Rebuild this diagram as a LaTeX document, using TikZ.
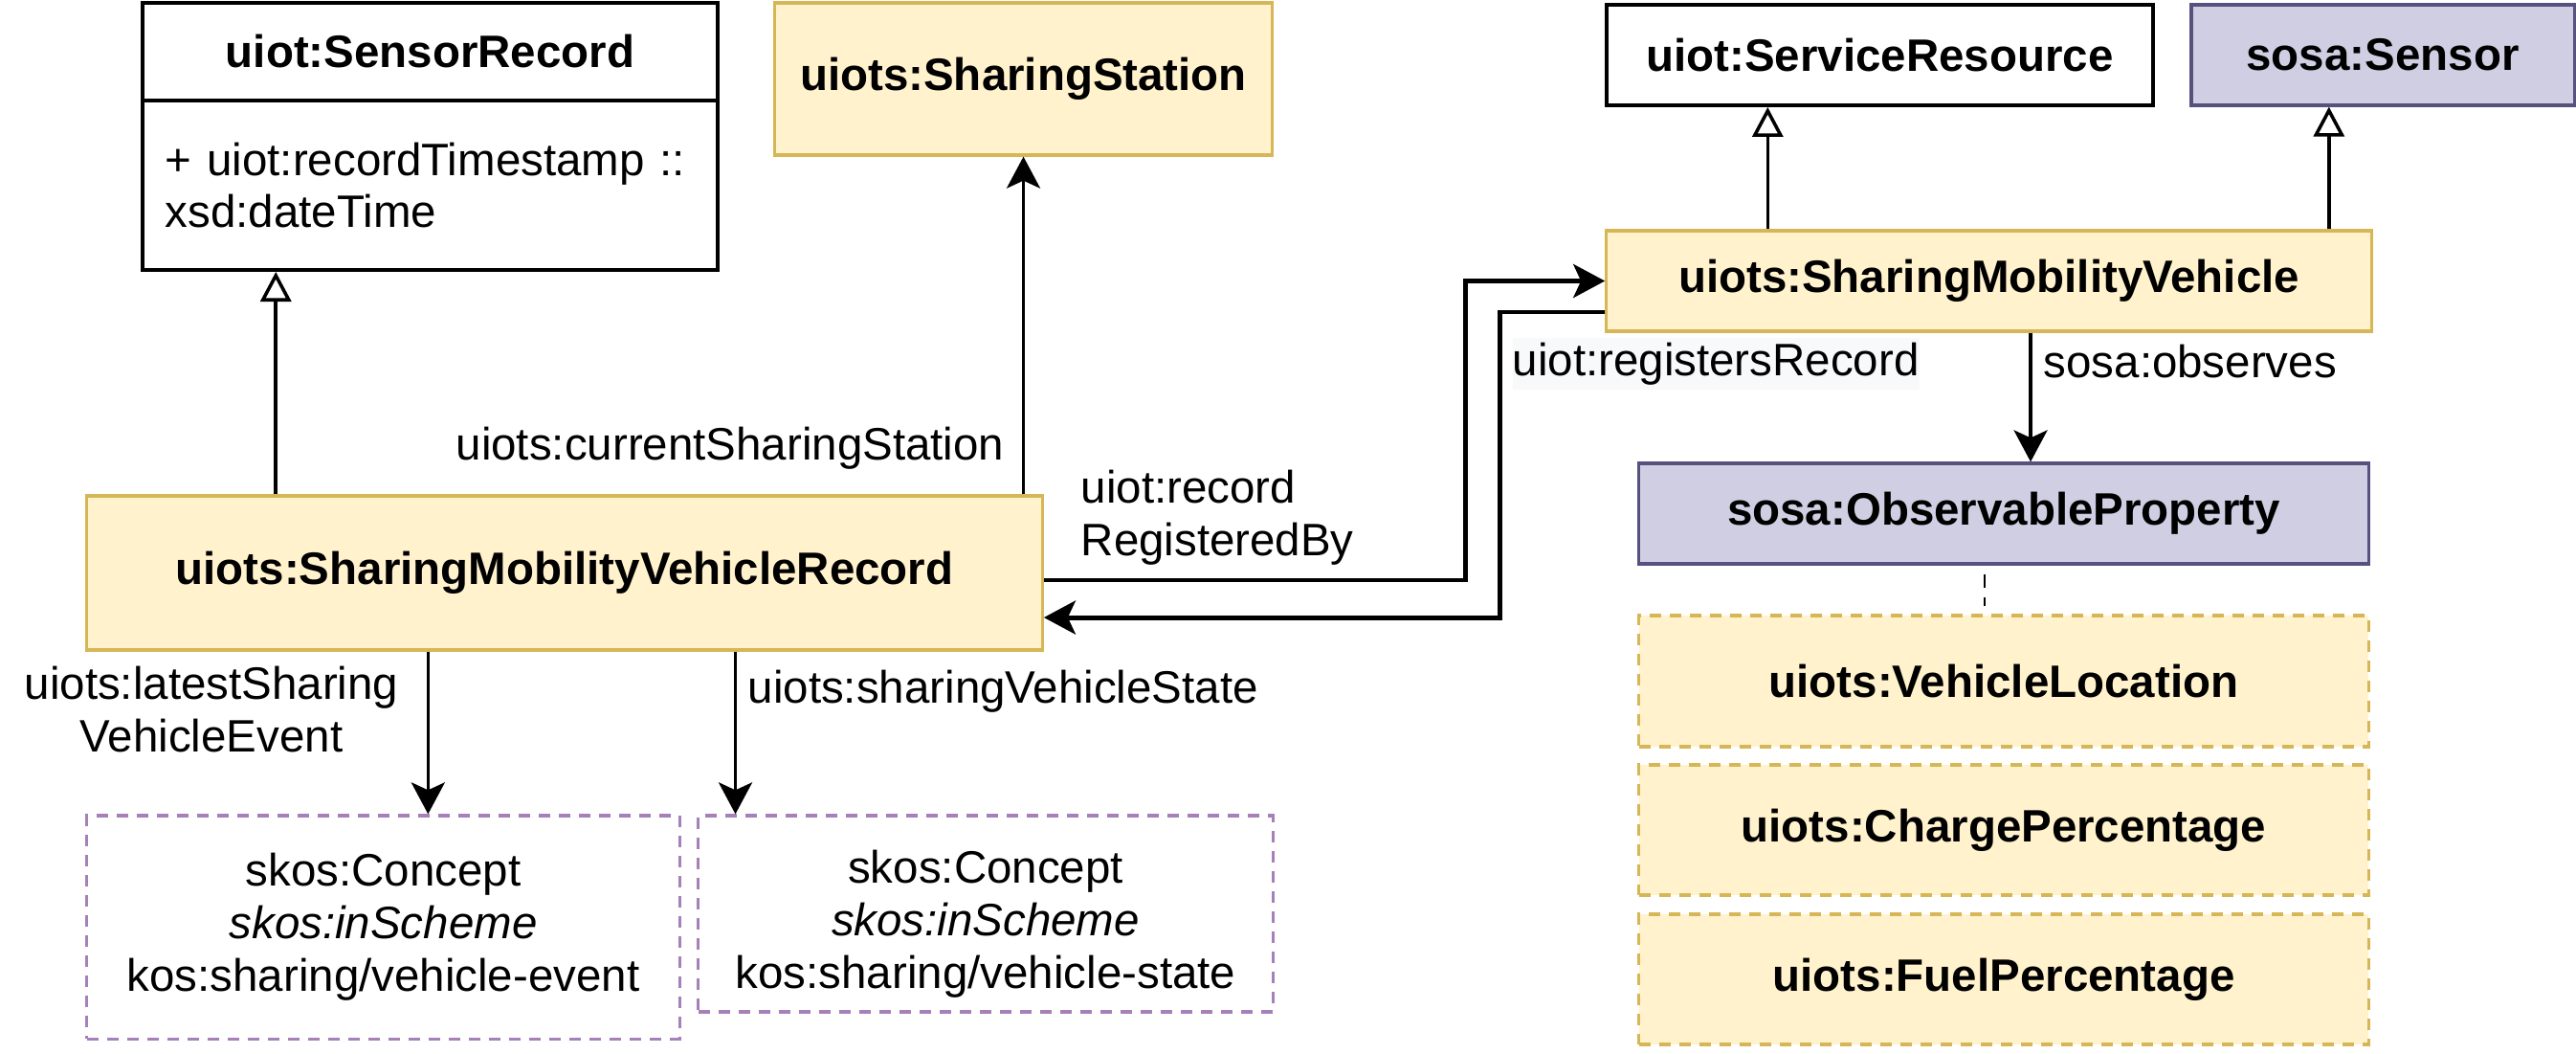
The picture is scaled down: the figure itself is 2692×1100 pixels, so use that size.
\documentclass[tikz,border=0pt]{standalone}
\usepackage{fontspec}
\setmainfont{Liberation Sans}
\usetikzlibrary{arrows.meta}
\definecolor{vehfill}{HTML}{FFF2CC}
\definecolor{vehline}{HTML}{D6B656}
\definecolor{sosafill}{HTML}{D0CEE2}
\definecolor{sosaline}{HTML}{56517E}
\definecolor{conceptline}{HTML}{A680B8}
\definecolor{labelbg}{HTML}{F8F9FA}
\newcommand{\nodefont}{\fontsize{13.5}{15.6}\selectfont}
\begin{document}
\begin{tikzpicture}[x=0.01cm,y=0.01cm,
  cls/.style={draw=black,line width=1.1pt,fill=white,font=\nodefont\bfseries},
  vehcls/.style={draw=vehline,line width=0.9pt,fill=vehfill,font=\nodefont\bfseries},
  sosacls/.style={draw=sosaline,line width=0.9pt,fill=sosafill,font=\nodefont\bfseries},
  propinst/.style={vehcls,dash pattern=on 0.12cm off 0.09cm},
  concept/.style={draw=conceptline,line width=0.9pt,dash pattern=on 0.12cm off 0.09cm,align=center,font=\nodefont},
  lbl/.style={font=\nodefont,align=center},
  gen/.style={line width=1pt,-{Triangle[open,length=0.31cm,width=0.32cm]}},
  rel/.style={line width=1pt,-{Stealth[length=0.33cm,width=0.35cm,inset=0.08cm]}},
  relthick/.style={line width=1.4pt,-{Stealth[length=0.33cm,width=0.35cm,inset=0.08cm]}}]
\tikzstyle{every node}+=[inner sep=0pt]
\useasboundingbox (0,0) rectangle (2692,-1100);
\draw (449.5,-54) node[cls,minimum width=6.01cm,minimum height=1.02cm] (srhead) {uiot:SensorRecord};
\draw (449.5,-193.5) node[cls,font=\nodefont,align=left,text width=5.53cm,inner xsep=0.24cm,minimum height=1.77cm] (srbody) {+ uiot:recordTimestamp ::\\xsd:dateTime};
\draw (1069.5,-82.5) node[vehcls,minimum width=5.19cm,minimum height=1.59cm] (station) {uiots:SharingStation};
\draw (590,-598.5) node[vehcls,minimum width=9.98cm,minimum height=1.61cm] (main) {uiots:SharingMobilityVehicleRecord};
\draw (1964.5,-57.5) node[cls,minimum width=5.71cm,minimum height=1.05cm] (servres) {uiot:ServiceResource};
\draw (2490,-57.5) node[sosacls,minimum width=4cm,minimum height=1.05cm] (sensor) {sosa:Sensor};
\draw (2078.5,-293.5) node[vehcls,minimum width=7.99cm,minimum height=1.05cm] (smv) {uiots:SharingMobilityVehicle};
\draw (2094,-536.5) node[sosacls,minimum width=7.62cm,minimum height=1.05cm] (obsprop) {sosa:ObservableProperty};
\draw (2094,-711.5) node[propinst,minimum width=7.62cm,minimum height=1.37cm] (loc) {uiots:VehicleLocation};
\draw (2094,-867) node[propinst,minimum width=7.62cm,minimum height=1.36cm] (charge) {uiots:ChargePercentage};
\draw (2094,-1023) node[propinst,minimum width=7.62cm,minimum height=1.36cm] (fuel) {uiots:FuelPercentage};
\draw (400.5,-968.5) node[concept,minimum width=6.19cm,minimum height=2.33cm] (event) {skos:Concept\\\textit{skos:inScheme}\\kos:sharing/vehicle-event};
\draw (1030,-954.5) node[concept,minimum width=6cm,minimum height=2.05cm] (state) {};
\draw ([yshift=-0.11cm]state.center) node[lbl] (statetxt) {skos:Concept\\\textit{skos:inScheme}\\kos:sharing/vehicle-state};
\coordinate (gensr) at ([xshift=1.99cm]main.north west);
\draw [gen] (gensr) -- (gensr |- srbody.south);
\draw [rel] (station.south |- main.north) -- (station.south);
\draw (1050,-468) node[lbl,anchor=east] (lcur) {uiots:currentSharingStation};
\coordinate (smvsr) at ([xshift=1.70cm]smv.north west);
\draw [gen] (smvsr) -- (smvsr |- servres.south);
\coordinate (smvsn) at ([xshift=-0.46cm]smv.north east);
\draw [gen] (smvsn) -- (smvsn |- sensor.south);
\draw [relthick] ([yshift=-0.075cm]main.east) -- ++(441,0) |- (smv.west);
\draw (1129,-541) node[lbl,anchor=west,align=left] (lrecby) {uiot:record\\RegisteredBy};
\draw [relthick] ([yshift=-0.325cm]smv.west) -- ++(-110,0) |- ([yshift=-0.465cm]main.east);
\draw (1580,-380) node[lbl,anchor=west,fill=labelbg,inner ysep=0.05cm] (lreg) {uiot:registersRecord};
\coordinate (obs) at ([xshift=0.435cm]smv.south);
\draw [rel] (obs) -- (obs |- obsprop.north);
\draw (2135,-378) node[lbl,anchor=west] (lobs) {sosa:observes};
\coordinate (dotc) at ([xshift=-0.2cm]obsprop.south);
\draw [line width=0.8pt,dash pattern=on 0.14cm off 0.1cm,shorten <=0.09cm,shorten >=0.08cm] (dotc) -- (dotc |- loc.north);
\coordinate (evtop) at ([xshift=3.58cm]main.south west);
\draw [rel] (evtop) -- (evtop |- event.north);
\draw (221,-741) node[lbl] (levent) {uiots:latestSharing\\VehicleEvent};
\coordinate (sttop) at ([xshift=6.79cm]main.south west);
\draw [rel] (sttop) -- (sttop |- state.north);
\draw (781,-722) node[lbl,anchor=west] (lstate) {uiots:sharingVehicleState};
\end{tikzpicture}
\end{document}
